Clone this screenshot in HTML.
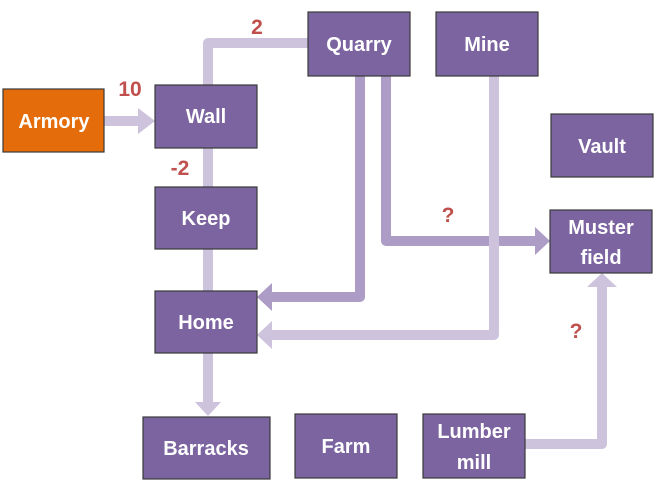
<!DOCTYPE html>
<html><head><style>
body{margin:0;background:#fff;width:659px;height:489px;overflow:hidden}
</style></head><body>
<svg width="659" height="489" xmlns="http://www.w3.org/2000/svg" font-family="Liberation Sans, sans-serif" font-weight="bold">
<g fill="none" stroke-width="10" stroke-linejoin="round">
<polyline points="308,43 208,43 208,86" stroke="#CDC3DD"/>
<line x1="208" y1="148" x2="208" y2="187" stroke="#CDC3DD"/>
<line x1="208" y1="249" x2="208" y2="291" stroke="#CDC3DD"/>
<line x1="208" y1="353" x2="208" y2="402" stroke="#CDC3DD"/>
<line x1="104" y1="121" x2="140" y2="121" stroke="#CDC3DD"/>
<polyline points="525,444 602,444 602,286" stroke="#CDC3DD"/>
<polyline points="360,76 360,297 270,297" stroke="#AC9CC6"/>
<polyline points="386,76 386,241 537,241" stroke="#AC9CC6"/>
<polyline points="494,76 494,335 270,335" stroke="#CDC3DD"/>
</g>
<g>
<polygon points="138,108 155,121 138,134" fill="#CDC3DD"/>
<polygon points="195,402 221,402 208,416" fill="#CDC3DD"/>
<polygon points="272,321 257,335 272,349" fill="#CDC3DD"/>
<polygon points="587,287 617,287 602,273" fill="#CDC3DD"/>
<polygon points="272,283 257,297 272,311" fill="#AC9CC6"/>
<polygon points="535,227 550,241 535,255" fill="#AC9CC6"/>
</g>
<g stroke="#3a3a3a" stroke-width="1.2">
<rect x="3" y="89" width="101" height="63" fill="#E46C0A"/>
<g fill="#7B64A0">
<rect x="155" y="85" width="102" height="63"/>
<rect x="155" y="187" width="102" height="62"/>
<rect x="155" y="291" width="102" height="62"/>
<rect x="143" y="417" width="127" height="62"/>
<rect x="295" y="414" width="102" height="64"/>
<rect x="423" y="414" width="102" height="64"/>
<rect x="308" y="12" width="102" height="64"/>
<rect x="436" y="12" width="102" height="64"/>
<rect x="551" y="114" width="102" height="63"/>
<rect x="550" y="210" width="102" height="63"/>
</g></g>
<g fill="#fff" font-size="20" text-anchor="middle">
<text x="54" y="128">Armory</text>
<text x="206" y="123">Wall</text>
<text x="206" y="225">Keep</text>
<text x="206" y="329">Home</text>
<text x="206" y="455">Barracks</text>
<text x="346" y="453">Farm</text>
<text x="474" y="438">Lumber</text>
<text x="474" y="469">mill</text>
<text x="359" y="51">Quarry</text>
<text x="487" y="51">Mine</text>
<text x="602" y="153">Vault</text>
<text x="601" y="234">Muster</text>
<text x="601" y="264">field</text>
</g>
<g fill="#C0504D" font-size="21" text-anchor="middle">
<text x="257" y="34">2</text>
<text x="130" y="96">10</text>
<text x="180" y="175">-2</text>
<text x="448" y="222">?</text>
<text x="576" y="338">?</text>
</g>
</svg>
</body></html>
